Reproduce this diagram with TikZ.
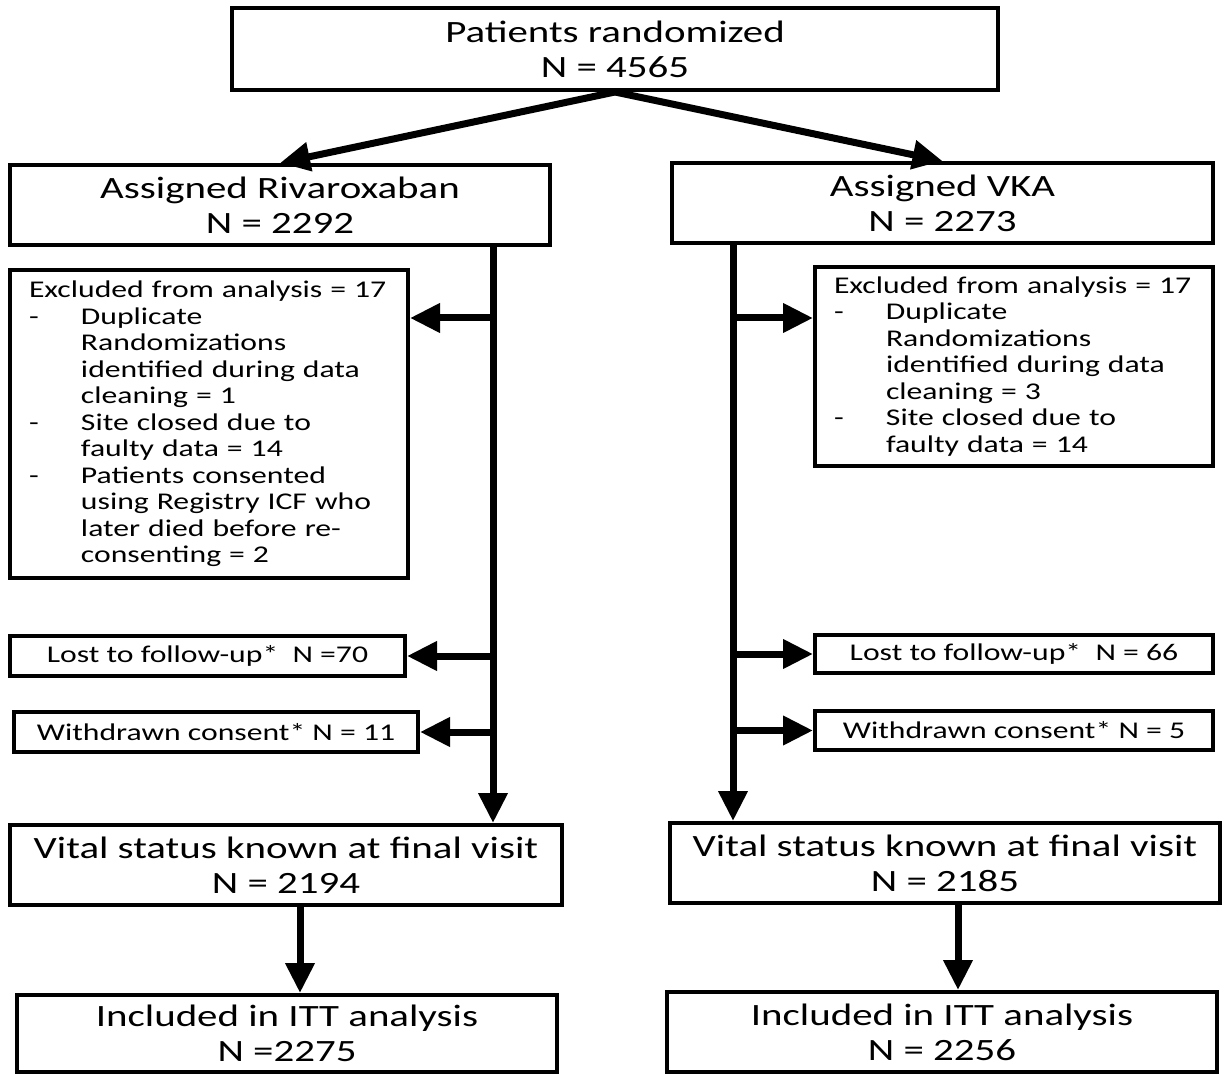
\documentclass[tikz,border=0pt]{standalone}
\usepackage{fontspec}
\setmainfont{Carlito}[FakeStretch=1.32]
\usepackage{tikz}
\usetikzlibrary{arrows.meta, positioning}

\newcommand{\exdash}{\makebox[26pt][l]{-}}
\newcommand{\exgap}{\hspace*{26pt}}

\begin{document}
\begin{tikzpicture}[x=0.5pt, y=-0.5pt,
  box/.style={draw, line width=2pt, inner sep=0pt, align=center,
              font=\fontsize{15.5}{17.5}\selectfont},
  smallbox/.style={draw, line width=2pt, inner sep=0pt, align=center,
              font=\fontsize{12}{13.25}\selectfont},
  listbox/.style={draw, line width=2pt, inner xsep=9.5pt, inner ysep=0pt, align=left,
              font=\fontsize{12}{13.25}\selectfont},
  arr/.style={-{Triangle[length=15pt, width=14pt]}, line width=3.5pt}
]
  \useasboundingbox (0,0) rectangle (1225,1074);

  \node[box, minimum width=383pt, minimum height=41pt] (rand) at (615,49) {Patients randomized\\N = 4565};
  \node[box, minimum width=270pt, minimum height=40pt] (riva) at (280,205) {Assigned Rivaroxaban\\N = 2292};
  \node[box, minimum width=270.5pt, minimum height=40pt] (vka) at (942.5,203) {Assigned VKA\\N = 2273};

  \node[listbox, minimum width=199pt, minimum height=154pt, text width=180pt] (rivaexcl) at (209,424)
    {Excluded from analysis = 17\\
     \exdash Duplicate\\
     \exgap Randomizations\\
     \exgap identified during data\\
     \exgap cleaning = 1\\
     \exdash Site closed due to\\
     \exgap faulty data = 14\\
     \exdash Patients consented\\
     \exgap using Registry ICF who\\
     \exgap later died before re-\\
     \exgap consenting = 2};
  \node[listbox, minimum width=199pt, minimum height=99.5pt, text width=180pt] (vkaexcl) at (1014,366.5)
    {Excluded from analysis = 17\\
     \exdash Duplicate\\
     \exgap Randomizations\\
     \exgap identified during data\\
     \exgap cleaning = 3\\
     \exdash Site closed due to\\
     \exgap faulty data = 14};

  \node[smallbox, minimum width=197.5pt, minimum height=20pt] (rivalost) at (207.5,656) {Lost to follow-up*\ \ N =70};
  \node[smallbox, minimum width=202pt, minimum height=20pt] (rivawd) at (216,732) {Withdrawn consent* N = 11};
  \node[smallbox, minimum width=199pt, minimum height=19pt] (vkalost) at (1014,654) {Lost to follow-up*\ \ N = 66};
  \node[smallbox, minimum width=199pt, minimum height=19.5pt] (vkawd) at (1014,730.5) {Withdrawn consent* N = 5};

  \node[box, minimum width=276pt, minimum height=40pt] (rivavital) at (286,865) {Vital status known at final visit\\N = 2194};
  \node[box, minimum width=275pt, minimum height=40pt] (vkavital) at (945,863) {Vital status known at final visit\\N = 2185};
  \node[box, minimum width=270pt, minimum height=38.5pt] (rivaitt) at (287,1033.5) {Included in ITT analysis\\N =2275};
  \node[box, minimum width=275pt, minimum height=40pt] (vkaitt) at (942,1032) {Included in ITT analysis\\N = 2256};

  \coordinate (rivatrunk) at (493,0);
  \coordinate (vkatrunk) at (733,0);
  \coordinate (rivaarm) at (493,318);
  \coordinate (vkaarm) at (733,318);
  \coordinate (rivadown) at (300,0);
  \coordinate (vkadown) at (958,0);

  \draw[arr] (rand.south) -- (riva.north);
  \draw[arr] (rand.south) -- (vka.north);

  \draw[arr] (riva.south -| rivatrunk) -- (rivavital.north -| rivatrunk);
  \draw[arr] (vka.south -| vkatrunk) -- (vkavital.north -| vkatrunk);

  \draw[arr] (rivaarm) -- (rivaarm -| rivaexcl.east);
  \draw[arr] (vkaarm) -- (vkaarm -| vkaexcl.west);
  \draw[arr] (rivalost.east -| rivatrunk) -- (rivalost.east);
  \draw[arr] (rivawd.east -| rivatrunk) -- (rivawd.east);
  \draw[arr] (vkalost.west -| vkatrunk) -- (vkalost.west);
  \draw[arr] (vkawd.west -| vkatrunk) -- (vkawd.west);

  \draw[arr] (rivavital.south -| rivadown) -- (rivaitt.north -| rivadown);
  \draw[arr] (vkavital.south -| vkadown) -- (vkaitt.north -| vkadown);
\end{tikzpicture}
\end{document}
